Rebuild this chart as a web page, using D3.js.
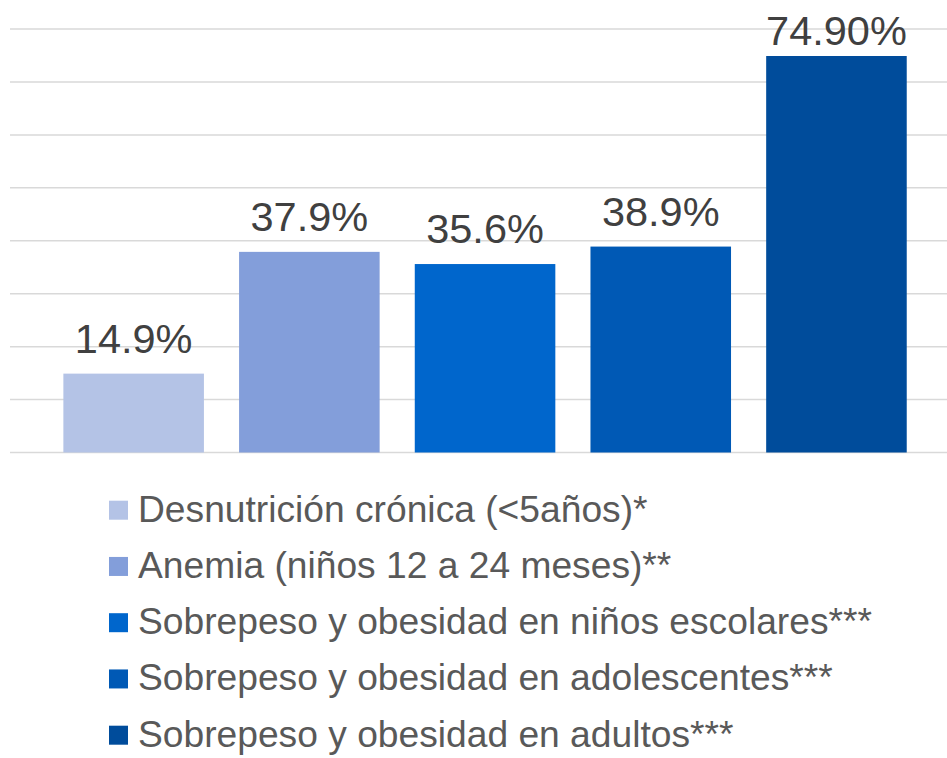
<!DOCTYPE html>
<html>
<head>
<meta charset="utf-8">
<script src="https://cdn.jsdelivr.net/npm/d3@7"></script>
<style>
  body { margin: 0; background: #fff; }
  svg { display: block; font-family: "Liberation Sans", Arial, sans-serif; }
</style>
</head>
<body>
<div id="chart"></div>
<script>
// data
const categories = [
    "Desnutrición crónica (<5años)*",
    "Anemia (niños 12 a 24 meses)**",
    "Sobrepeso y obesidad en niños escolares***",
    "Sobrepeso y obesidad en adolescentes***",
    "Sobrepeso y obesidad en adultos***"
];
const values = [14.9, 37.9, 35.6, 38.9, 74.9];
const valueLabels = ["14.9%", "37.9%", "35.6%", "38.9%", "74.90%"];
const gridTicks = [0, 10, 20, 30, 40, 50, 60, 70, 80];
const colors = ["#b4c3e6", "#839eda", "#0066cc", "#0059b5", "#004c9b"];

const width = 947, height = 758;

const svg = d3.select("#chart")
    .append("svg")
    .attr("width", width)
    .attr("height", height);

const x = d3.scaleBand()
    .domain(categories)
    .range([45.8, 924.3])
    .paddingInner(0.2)
    .paddingOuter(0.1);

const y = d3.scaleLinear()
    .domain([0, 80])
    .range([452.5, 29]);

// gridlines
svg.append("g")
    .selectAll("line")
    .data(gridTicks)
    .join("line")
    .attr("x1", 10)
    .attr("x2", width)
    .attr("y1", d => y(d))
    .attr("y2", d => y(d))
    .attr("stroke", "#d9d9d9")
    .attr("stroke-width", 1.5);

// bars
svg.append("g")
    .selectAll("rect")
    .data(values)
    .join("rect")
    .attr("x", (d, i) => x(categories[i]))
    .attr("y", d => y(d))
    .attr("width", x.bandwidth())
    .attr("height", d => y(0) - y(d))
    .attr("fill", (d, i) => colors[i]);

// value labels
svg.append("g")
    .selectAll("text")
    .data(values)
    .join("text")
    .attr("x", (d, i) => x(categories[i]) + x.bandwidth() / 2)
    .attr("y", d => Math.max(y(d) - 21, 45))
    .attr("text-anchor", "middle")
    .attr("font-size", "41.5px")
    .attr("fill", "#404040")
    .text((d, i) => valueLabels[i]);

// legend
const legend = svg.append("g")
    .selectAll("g")
    .data(categories)
    .join("g")
    .attr("transform", (d, i) => `translate(109, ${521.7 + i * 56.25})`);

legend.append("rect")
    .attr("x", 0)
    .attr("y", -21)
    .attr("width", 19)
    .attr("height", 19)
    .attr("fill", (d, i) => colors[i]);

legend.append("text")
    .attr("x", 29)
    .attr("y", 0)
    .attr("font-size", "37.2px")
    .attr("fill", "#595959")
    .text(d => d);
</script>
</body>
</html>
